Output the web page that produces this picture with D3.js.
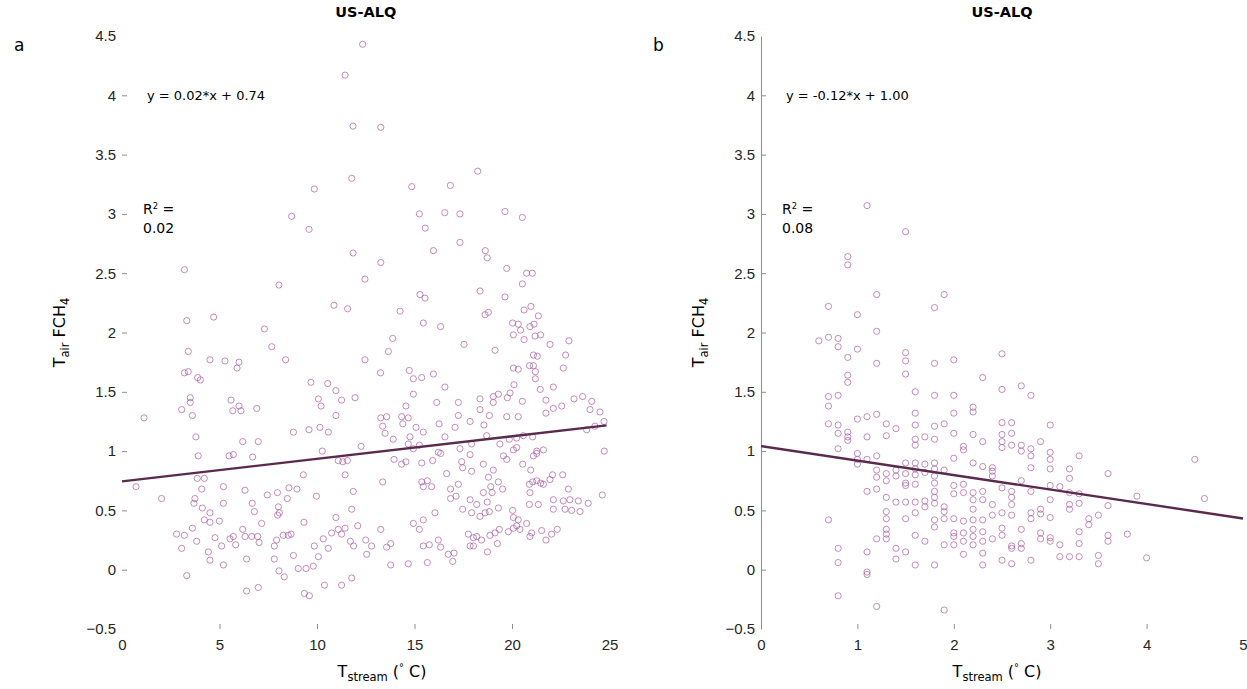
<!DOCTYPE html>
<html>
<head>
<meta charset="utf-8">
<script src="https://cdn.jsdelivr.net/npm/d3@7"></script>
<style>
  body { margin: 0; background: #fff; }
  svg { font-family: 'DejaVu Sans', 'Liberation Sans', Arial, sans-serif; }
  .tick text { fill: #262626; font-size: 15px; }
  .tick line { stroke: #8c8c8c; }
</style>
</head>
<body>
<svg width="1247" height="689"></svg>
<script>
// Readings (US-ALQ, two panels).
const Y_TICKS = [-0.5, 0, 0.5, 1, 1.5, 2, 2.5, 3, 3.5, 4, 4.5];
const X_TICKS_A = [0, 5, 10, 15, 20, 25];
const X_TICKS_B = [0, 1, 2, 3, 4, 5];

// [intercept, slope, x end] of the drawn fit lines.
const FIT_A = [0.745, 0.019, 24.85];
const FIT_B = [1.042, -0.122, 5];

const EQUATION_A = 'y = 0.02*x + 0.74';
const EQUATION_B = 'y = -0.12*x + 1.00';
const R2_A = '0.02';
const R2_B = '0.08';

// Panel a: T_stream vs T_air FCH4.
const POINTS_A = [
  [12.34, 4.43], [11.44, 4.17], [11.85, 3.74], [11.78, 3.30], [9.86, 3.21],
  [8.70, 2.98], [9.59, 2.87], [11.85, 2.67], [3.20, 2.53], [12.46, 2.45],
  [8.05, 2.40],
  [13.27, 3.73], [18.24, 3.36], [14.86, 3.23], [16.84, 3.24], [15.25, 3.00],
  [16.55, 3.01], [17.33, 3.00], [19.64, 3.02], [20.53, 2.97], [15.55, 2.88],
  [17.33, 2.76], [15.97, 2.69], [18.63, 2.69], [18.73, 2.63], [13.27, 2.59],
  [19.73, 2.54], [20.75, 2.50], [21.04, 2.50], [20.53, 2.41], [18.36, 2.35],
  [15.28, 2.32], [15.54, 2.29], [19.64, 2.30],
  [10.87, 2.23], [11.57, 2.20], [3.32, 2.10], [4.70, 2.13], [7.30, 2.03],
  [3.40, 1.84], [7.68, 1.88], [8.39, 1.77], [12.46, 1.77], [4.51, 1.77],
  [5.28, 1.76], [6.00, 1.75], [5.90, 1.70], [3.20, 1.66], [3.40, 1.67],
  [3.88, 1.62], [4.02, 1.60], [9.69, 1.58], [10.55, 1.57], [10.97, 1.51],
  [10.07, 1.44], [10.21, 1.38], [11.26, 1.43], [11.95, 1.45], [3.50, 1.45],
  [3.50, 1.41], [3.06, 1.35], [3.61, 1.30], [5.59, 1.43], [6.00, 1.38],
  [5.68, 1.34], [6.10, 1.34], [6.91, 1.36], [10.97, 1.30], [1.13, 1.28],
  [8.79, 1.16], [9.59, 1.18], [10.15, 1.20], [10.58, 1.16], [3.79, 1.12],
  [3.91, 0.96], [6.19, 1.08], [6.99, 1.08], [5.49, 0.96], [5.71, 0.97],
  [6.70, 0.95], [10.27, 1.00], [12.26, 1.04], [11.09, 0.92], [11.32, 0.91],
  [11.56, 0.92], [11.44, 0.80], [9.30, 0.80], [3.86, 0.77], [4.22, 0.77],
  [4.09, 0.68], [0.72, 0.70], [2.03, 0.60], [5.20, 0.70], [6.31, 0.67],
  [7.45, 0.63], [7.97, 0.65], [8.48, 0.60], [8.56, 0.69], [8.97, 0.68],
  [9.97, 0.62], [11.86, 0.66], [3.74, 0.60], [3.69, 0.56], [4.12, 0.52],
  [4.51, 0.48], [5.20, 0.56], [6.68, 0.56], [6.79, 0.49], [8.02, 0.53],
  [8.07, 0.48], [7.98, 0.46], [11.78, 0.51], [10.97, 0.44], [4.22, 0.42],
  [4.51, 0.40], [4.99, 0.41], [7.16, 0.39], [9.33, 0.40], [3.61, 0.35],
  [2.80, 0.30], [3.20, 0.29], [3.06, 0.18], [3.83, 0.24], [4.43, 0.15],
  [4.51, 0.08], [5.20, 0.04], [4.77, 0.27], [5.11, 0.20], [5.54, 0.26],
  [5.71, 0.28], [5.83, 0.21], [6.19, 0.34], [6.31, 0.28], [6.65, 0.28],
  [6.96, 0.28], [7.03, 0.23], [7.81, 0.20], [7.93, 0.25], [8.27, 0.29],
  [8.53, 0.29], [8.67, 0.30], [9.86, 0.20], [10.07, 0.11], [10.58, 0.18],
  [10.32, 0.26], [10.75, 0.31], [11.09, 0.34], [11.44, 0.35], [11.26, 0.30],
  [12.09, 0.37], [11.71, 0.24], [11.88, 0.20], [12.50, 0.25], [12.55, 0.13],
  [8.79, 0.12], [6.39, 0.09], [7.81, 0.09], [3.32, -0.05], [9.04, 0.01],
  [9.44, 0.01], [9.81, 0.03], [8.05, -0.01], [8.32, -0.06], [10.38, -0.13],
  [11.26, -0.13], [11.78, -0.07], [6.39, -0.18], [6.99, -0.15], [9.35, -0.20],
  [9.61, -0.22],
  [14.26, 2.18], [20.62, 2.19], [20.97, 2.22], [21.35, 2.14], [18.62, 2.15],
  [18.79, 2.17], [15.45, 2.08], [16.34, 2.05], [20.03, 2.08], [20.32, 2.07],
  [21.13, 2.07], [20.92, 2.05], [20.44, 2.02], [20.07, 1.98], [20.62, 1.94],
  [21.18, 1.97], [21.47, 1.98], [13.88, 1.95], [13.66, 1.84], [17.54, 1.90],
  [19.13, 1.85], [21.95, 1.90], [22.92, 1.93], [22.75, 1.81], [22.63, 1.70],
  [21.10, 1.81], [21.30, 1.80], [20.90, 1.72], [21.10, 1.72], [21.20, 1.67],
  [21.20, 1.61], [20.07, 1.70], [20.32, 1.69], [13.26, 1.66], [14.73, 1.68],
  [14.94, 1.61], [15.37, 1.62], [15.97, 1.65], [16.56, 1.54], [21.45, 1.52],
  [22.12, 1.54], [20.10, 1.56], [19.90, 1.49], [19.76, 1.45], [19.30, 1.48],
  [19.04, 1.46], [19.04, 1.41], [20.53, 1.42], [14.94, 1.48], [14.56, 1.38],
  [16.14, 1.41], [17.25, 1.41], [18.36, 1.44], [18.36, 1.35], [18.84, 1.30],
  [17.25, 1.30], [19.73, 1.29], [20.32, 1.29], [21.74, 1.43], [21.74, 1.32],
  [22.12, 1.36], [22.55, 1.38], [23.18, 1.44], [23.62, 1.46], [24.09, 1.42],
  [24.00, 1.35], [24.51, 1.33], [13.27, 1.28], [13.57, 1.29], [13.37, 1.21],
  [13.49, 1.15], [14.34, 1.29], [14.40, 1.23], [14.68, 1.28], [13.91, 1.10],
  [15.08, 1.20], [15.45, 1.16], [14.77, 1.12], [16.26, 1.23], [17.08, 1.20],
  [17.85, 1.25], [18.56, 1.22], [16.56, 1.12], [24.72, 1.25], [23.83, 1.18],
  [24.25, 1.21], [14.68, 1.06], [15.25, 1.05], [14.94, 1.02], [17.33, 1.02],
  [17.85, 0.97], [17.93, 1.06], [18.70, 1.13], [19.38, 1.06], [19.86, 1.10],
  [20.24, 1.11], [20.58, 1.13], [21.06, 1.12], [16.22, 0.99], [16.34, 0.98],
  [19.56, 0.96], [19.73, 0.93], [20.07, 1.01], [20.24, 1.03], [21.27, 1.00],
  [21.61, 1.01], [21.10, 0.96], [21.27, 0.98], [24.73, 1.00], [13.95, 0.93],
  [14.34, 0.89], [14.56, 0.91], [15.37, 0.90], [15.93, 0.92], [17.42, 0.91],
  [17.47, 0.86], [17.93, 0.83], [18.53, 0.89], [19.04, 0.84], [18.79, 0.78],
  [20.55, 0.89], [20.96, 0.84], [13.37, 0.74], [16.65, 0.81], [15.37, 0.74],
  [15.66, 0.75], [15.88, 0.70], [15.45, 0.70], [17.25, 0.72], [16.85, 0.68],
  [16.85, 0.60], [17.13, 0.62], [19.30, 0.74], [18.91, 0.70], [18.98, 0.65],
  [19.52, 0.68], [18.53, 0.65], [18.73, 0.57], [17.85, 0.59], [18.19, 0.55],
  [17.93, 0.48], [18.36, 0.45], [18.62, 0.48], [18.84, 0.49], [19.30, 0.52],
  [17.47, 0.51], [16.05, 0.48], [20.89, 0.72], [21.06, 0.74], [21.27, 0.75],
  [21.47, 0.73], [21.61, 0.72], [21.95, 0.76], [22.08, 0.80], [22.60, 0.80],
  [20.92, 0.65], [20.89, 0.55], [21.35, 0.55], [22.12, 0.59], [22.12, 0.51],
  [22.63, 0.58], [22.89, 0.68], [22.97, 0.59], [22.72, 0.51], [23.06, 0.50],
  [23.40, 0.58], [23.49, 0.49], [23.91, 0.56], [24.63, 0.63], [20.03, 0.50],
  [20.07, 0.44], [20.32, 0.42], [20.75, 0.39], [20.07, 0.35], [20.24, 0.37],
  [14.94, 0.39], [15.25, 0.34], [15.45, 0.42], [13.27, 0.34], [17.76, 0.30],
  [18.02, 0.27], [18.19, 0.28], [18.44, 0.25], [17.85, 0.20], [18.02, 0.20],
  [18.87, 0.29], [19.13, 0.31], [19.35, 0.34], [19.81, 0.32], [20.41, 0.34],
  [21.01, 0.31], [20.92, 0.28], [21.52, 0.33], [22.03, 0.30], [22.32, 0.34],
  [21.74, 0.25], [19.25, 0.22], [18.74, 0.15], [12.80, 0.20], [13.57, 0.19],
  [13.78, 0.22], [15.45, 0.20], [15.76, 0.21], [16.22, 0.25], [16.34, 0.19],
  [16.73, 0.13], [17.03, 0.14], [16.96, 0.07], [13.78, 0.04], [14.68, 0.05],
  [15.66, 0.06],
];

// Panel b: T_stream vs T_air FCH4.
const POINTS_B = [
  [1.1, 3.07], [1.5, 2.85], [0.9, 2.64], [0.9, 2.57], [1.2, 2.32], [1.9, 2.32],
  [0.7, 2.22], [1.0, 2.15], [1.8, 2.21], [1.2, 2.01], [0.6, 1.93], [0.7, 1.96],
  [0.8, 1.95], [0.8, 1.88], [0.9, 1.79], [1.0, 1.86], [1.2, 1.74], [1.5, 1.83],
  [1.5, 1.76], [1.5, 1.65], [1.8, 1.74], [2.0, 1.77], [0.9, 1.64], [0.9, 1.58],
  [2.3, 1.62], [0.7, 1.46], [0.8, 1.47], [0.7, 1.38], [1.6, 1.50], [1.8, 1.47],
  [2.0, 1.47], [2.2, 1.37], [2.2, 1.33], [0.7, 1.23], [0.8, 1.22], [0.8, 1.15],
  [0.9, 1.16], [0.9, 1.12], [0.9, 1.09], [1.0, 1.27], [1.1, 1.29], [1.2, 1.31],
  [1.1, 1.12], [1.3, 1.23], [1.3, 1.13], [1.4, 1.19], [1.6, 1.32], [1.6, 1.22],
  [1.6, 1.10], [1.6, 1.05], [1.7, 1.12], [1.8, 1.21], [1.8, 1.10], [1.9, 1.23],
  [2.0, 1.32], [2.0, 1.15], [2.1, 1.04], [2.1, 1.01], [2.2, 1.14], [2.3, 1.08],
  [0.8, 1.02], [1.0, 0.98], [1.0, 0.93], [1.0, 0.89], [1.1, 0.93], [1.2, 0.96],
  [2.0, 0.94], [2.2, 0.90], [2.3, 0.87], [2.4, 0.86], [2.4, 0.83], [2.4, 0.79],
  [1.2, 0.84], [1.2, 0.78], [1.3, 0.81], [1.3, 0.75], [1.4, 0.84], [1.4, 0.79],
  [1.5, 0.90], [1.5, 0.81], [1.5, 0.73], [1.5, 0.71], [1.6, 0.90], [1.6, 0.85],
  [1.6, 0.80], [1.6, 0.72], [1.7, 0.89], [1.7, 0.82], [1.8, 0.90], [1.8, 0.85],
  [1.8, 0.79], [1.8, 0.73], [1.8, 0.66], [1.8, 0.61], [1.8, 0.56], [1.9, 0.84],
  [2.0, 0.71], [2.0, 0.64], [2.1, 0.72], [2.1, 0.65], [2.2, 0.65], [2.2, 0.59],
  [2.2, 0.51], [2.3, 0.66], [2.3, 0.59], [2.4, 0.55], [2.4, 0.46], [1.1, 0.66],
  [1.2, 0.68], [1.3, 0.61], [1.3, 0.49], [1.3, 0.43], [1.4, 0.57], [1.5, 0.57],
  [1.5, 0.43], [1.6, 0.57], [1.6, 0.48], [1.7, 0.58], [1.7, 0.53], [1.8, 0.42],
  [1.8, 0.36], [1.9, 0.53], [1.9, 0.49], [1.9, 0.43], [1.9, 0.21], [2.0, 0.43],
  [2.0, 0.31], [2.0, 0.28], [2.0, 0.21], [2.1, 0.41], [2.1, 0.31], [2.1, 0.24],
  [2.1, 0.13], [2.2, 0.42], [2.2, 0.34], [2.2, 0.28], [2.2, 0.21], [2.3, 0.42],
  [2.3, 0.32], [2.3, 0.24], [2.3, 0.14], [2.3, 0.04], [2.4, 0.26], [0.7, 0.42],
  [1.2, 0.26], [1.3, 0.34], [1.3, 0.30], [1.3, 0.26], [0.8, 0.18], [0.8, 0.06],
  [1.1, 0.15], [1.1, -0.02], [1.1, -0.04], [1.4, 0.18], [1.4, 0.09], [1.5, 0.15],
  [1.6, 0.29], [1.6, 0.04], [1.7, 0.24], [1.8, 0.04], [0.8, -0.22], [1.2, -0.31],
  [1.9, -0.34],
  [2.5, 1.82], [2.5, 1.52], [2.7, 1.55], [2.8, 1.47], [2.5, 1.24], [2.6, 1.24],
  [3.0, 1.22], [2.5, 1.14], [2.5, 1.08], [2.5, 1.03], [2.6, 1.15], [2.6, 1.05],
  [2.7, 1.05], [2.7, 1.00], [2.8, 1.02], [2.8, 0.96], [2.9, 1.08], [3.0, 0.99],
  [3.0, 0.93], [3.0, 0.85], [3.3, 0.96], [4.5, 0.93], [2.8, 0.86], [3.2, 0.85],
  [3.2, 0.77], [3.6, 0.81], [2.5, 0.69], [2.6, 0.66], [2.6, 0.61], [2.6, 0.55],
  [2.7, 0.75], [2.8, 0.66], [3.0, 0.71], [3.0, 0.59], [3.1, 0.70], [3.2, 0.65],
  [3.2, 0.55], [3.2, 0.51], [3.3, 0.64], [3.3, 0.56], [3.9, 0.62], [4.6, 0.60],
  [3.6, 0.54], [2.5, 0.48], [2.6, 0.46], [2.8, 0.48], [2.8, 0.43], [2.9, 0.51],
  [2.9, 0.47], [3.0, 0.44], [3.4, 0.43], [3.4, 0.38], [3.5, 0.46], [2.5, 0.35],
  [2.5, 0.29], [2.7, 0.34], [2.6, 0.20], [2.6, 0.18], [2.7, 0.22], [2.7, 0.18],
  [2.9, 0.31], [2.9, 0.26], [3.0, 0.27], [3.0, 0.24], [3.3, 0.32], [3.3, 0.22],
  [3.1, 0.21], [3.6, 0.29], [3.6, 0.24], [3.8, 0.30], [2.5, 0.08], [2.6, 0.05],
  [2.8, 0.08], [3.1, 0.11], [3.2, 0.11], [3.3, 0.11], [3.5, 0.12], [3.5, 0.05],
  [4.0, 0.10],
];

const COLORS = {
  POINT: '#a5579d',
  FIT: '#5a2a4e',
  AXIS: '#8c8c8c',
};

/**
 * Adds sub/superscripted pieces (T_air, R^2) to a text node.
 * @param {*} text d3 selection of a text element.
 * @param {!Array<!Array>} parts [string, isSub, isSup] pieces.
 */
function addRichText(text, parts) {
  parts.forEach(([str, sub, sup]) => {
    const t = text.append('tspan').text(str);
    if (sub) t.attr('font-size', '0.72em').attr('baseline-shift', '-30%');
    if (sup) t.attr('font-size', '0.6em').attr('baseline-shift', '60%');
  });
}

/**
 * Draws one scatter panel.
 * @param {*} svg Root svg selection.
 * @param {!Object} opts Panel description.
 */
function drawPanel(svg, opts) {
  const x = d3.scaleLinear().domain(opts.xDomain).range([opts.left, opts.right]);
  const y = d3.scaleLinear().domain([-0.5, 4.5]).range([629, 36]);
  const g = svg.append('g');
  const ends = (d, dom) => d === dom[0] || d === dom[1];

  const yAxis = g.append('g')
      .attr('transform', `translate(${opts.left},0)`)
      .call(d3.axisLeft(y).tickValues(Y_TICKS)
          .tickFormat(d3.format('')).tickSizeInner(-5).tickSizeOuter(0)
          .tickPadding(6));
  yAxis.selectAll('.tick line').filter(d => ends(d, [-0.5, 4.5])).remove();
  yAxis.selectAll('.tick text').attr('font-family', null).attr('font-size', null);
  yAxis.select('.domain')
      .attr('stroke', opts.showYLine ? COLORS.AXIS : 'none');

  const xAxis = g.append('g')
      .attr('transform', 'translate(0,629)')
      .call(d3.axisBottom(x).tickValues(opts.xTicks)
          .tickFormat(d3.format('')).tickSizeInner(-5).tickSizeOuter(0)
          .tickPadding(10));
  xAxis.selectAll('.tick line').filter(d => ends(d, opts.xDomain)).remove();
  xAxis.selectAll('.tick text').attr('font-family', null).attr('font-size', null);
  xAxis.select('.domain').remove();
  g.selectAll('.tick line').attr('stroke', COLORS.AXIS);

  g.append('g').selectAll('circle')
      .data(opts.points)
      .join('circle')
      .attr('cx', d => x(d[0]))
      .attr('cy', d => y(d[1]))
      .attr('r', 3.1)
      .attr('fill', 'none')
      .attr('stroke', COLORS.POINT)
      .attr('stroke-opacity', 0.75)
      .attr('stroke-width', 0.9);

  const [b0, b1, xEnd] = opts.fit;
  g.append('line')
      .attr('x1', x(0)).attr('y1', y(b0))
      .attr('x2', x(xEnd)).attr('y2', y(b0 + b1 * xEnd))
      .attr('stroke', COLORS.FIT)
      .attr('stroke-width', 2.4);

  const mid = (opts.left + opts.right) / 2;
  g.append('text')
      .attr('x', mid).attr('y', 17)
      .attr('text-anchor', 'middle')
      .attr('font-weight', 'bold')
      .attr('font-size', 14.5)
      .text('US-ALQ');

  g.append('text')
      .attr('x', opts.left - 108).attr('y', 51)
      .attr('font-size', 17)
      .text(opts.letter);

  g.append('text')
      .attr('x', opts.left + 25).attr('y', y(4) + 5)
      .attr('font-size', 13)
      .text(opts.equation);

  const r2 = g.append('text')
      .attr('x', opts.left + 21).attr('y', y(3))
      .attr('font-size', 14);
  addRichText(r2, [['R'], ['2', false, true], [' =']]);
  g.append('text')
      .attr('x', opts.left + 21).attr('y', y(3) + 19.5)
      .attr('font-size', 14)
      .text(opts.r2);

  const xl = g.append('text')
      .attr('x', opts.xLabelX).attr('y', 677)
      .attr('text-anchor', 'middle')
      .attr('font-size', 16);
  addRichText(xl, [['T'], ['stream', true], [' ('], ['°', false, true], [' C)']]);

  const yl = g.append('text')
      .attr('transform', `translate(${opts.left - 57},${y(2)}) rotate(-90)`)
      .attr('text-anchor', 'middle')
      .attr('font-size', 16);
  addRichText(yl, [['T'], ['air', true], [' FCH'], ['4', true]]);
}

document.addEventListener('DOMContentLoaded', () => {
  const svg = d3.select('svg');
  drawPanel(svg, {
    letter: 'a', xDomain: [0, 25], xTicks: X_TICKS_A, left: 122, right: 609.5,
    points: POINTS_A, fit: FIT_A, equation: EQUATION_A, r2: R2_A,
    showYLine: false, xLabelX: 382,
  });
  drawPanel(svg, {
    letter: 'b', xDomain: [0, 5], xTicks: X_TICKS_B, left: 761, right: 1243,
    points: POINTS_B, fit: FIT_B, equation: EQUATION_B, r2: R2_B,
    showYLine: true, xLabelX: 997,
  });
});
</script>
</body>
</html>
